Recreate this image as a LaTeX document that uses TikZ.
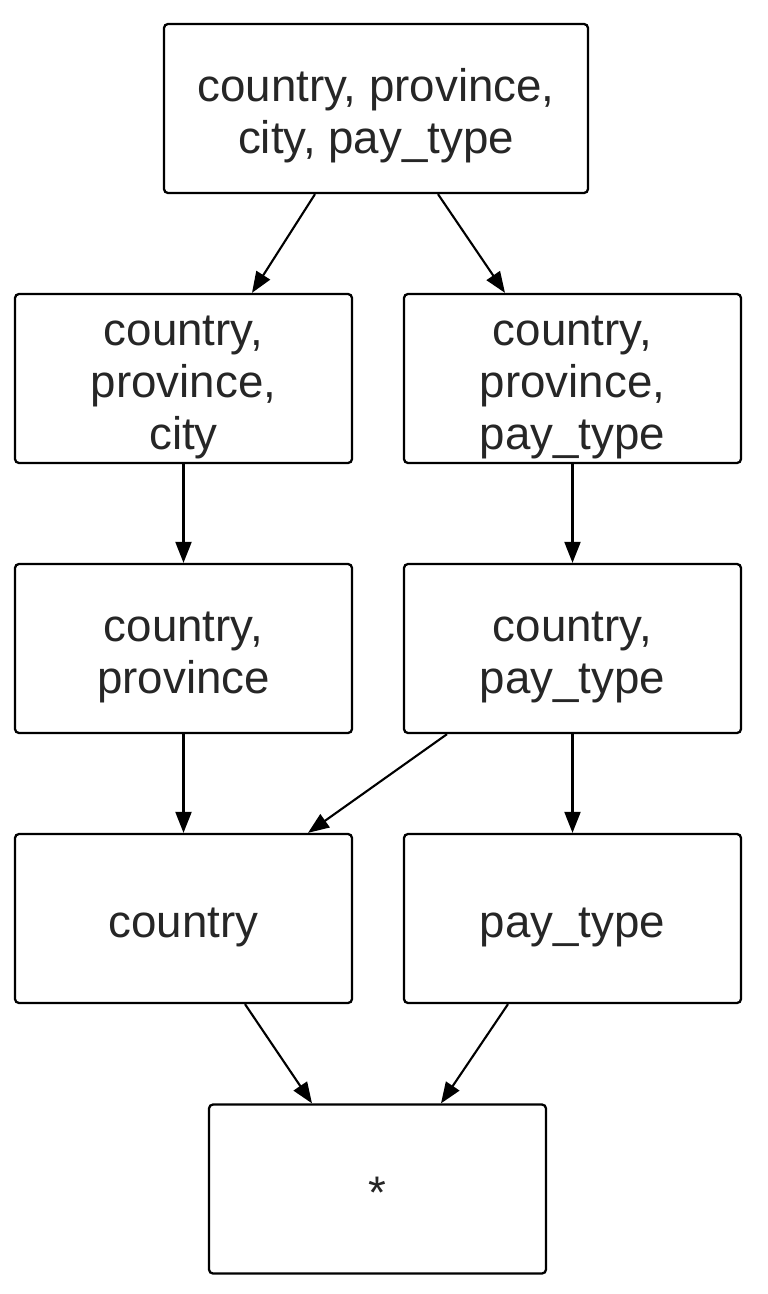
\documentclass[tikz,border=0pt]{standalone}
\usepackage{fontspec}
\setmainfont{Liberation Sans}
\usetikzlibrary{arrows.meta}
% stacked lines of a group, set a bit lower in the box
\newcommand{\attrlines}[1]{\raisebox{-5pt}[\height][\depth]{\begin{tabular}{@{}c@{}}#1\end{tabular}}}
\tikzstyle{groupbox} = [rectangle, rounded corners=0.8mm, 
minimum width=6.74cm, 
minimum height=3.38cm, 
inner sep=2pt,
draw=black, 
line width=1.3pt,
text=black!85,
font=\fontsize{26}{29.5}\selectfont]
\tikzstyle{arrow} = [line width=1.2pt,->,>={Triangle[length=4.2mm,width=3.2mm]}]

\begin{document}
\begin{tikzpicture}[node distance=5.4cm]
                \useasboundingbox (0,0) rectangle (15.36,-25.88);
                \node[groupbox, minimum width=8.48cm] (all) at (7.52,-2.17) {\attrlines{country, province,\\city, pay\_type}};
                \node[groupbox, below of=all, xshift=-3.85cm] (cpc) {\attrlines{country,\\province,\\city}};
                \node[groupbox, below of=all, xshift=3.93cm] (cpp) {\attrlines{country,\\province,\\pay\_type}};
                \node[groupbox, below of=cpc] (cp) {\attrlines{country,\\province}};
                \node[groupbox, below of=cpp] (cpt) {\attrlines{country,\\pay\_type}};
                \node[groupbox, below of=cp] (c) {\attrlines{country}};
                \node[groupbox, below of=cpt] (pt) {\attrlines{pay\_type}};
                \node[groupbox, below of=all, yshift=-16.21cm, xshift=0.03cm] (star) {\attrlines{*}};

                \draw[arrow] ([xshift=-1.22cm]all.south) -- ([xshift=1.37cm]cpc.north);
                \draw[arrow] ([xshift=1.24cm]all.south) -- ([xshift=-1.35cm]cpp.north);
                \draw[arrow] (cpc) -- (cp);
                \draw[arrow] (cpp) -- (cpt);
                \draw[arrow] (cp) -- (c);
                \draw[arrow] ([xshift=-2.51cm]cpt.south) -- ([xshift=2.49cm]c.north);
                \draw[arrow] (cpt) -- (pt);
                \draw[arrow] ([xshift=1.23cm]c.south) -- ([xshift=-1.31cm]star.north);
                \draw[arrow] ([xshift=-1.29cm]pt.south) -- ([xshift=1.27cm]star.north);
            \end{tikzpicture}
\end{document}
